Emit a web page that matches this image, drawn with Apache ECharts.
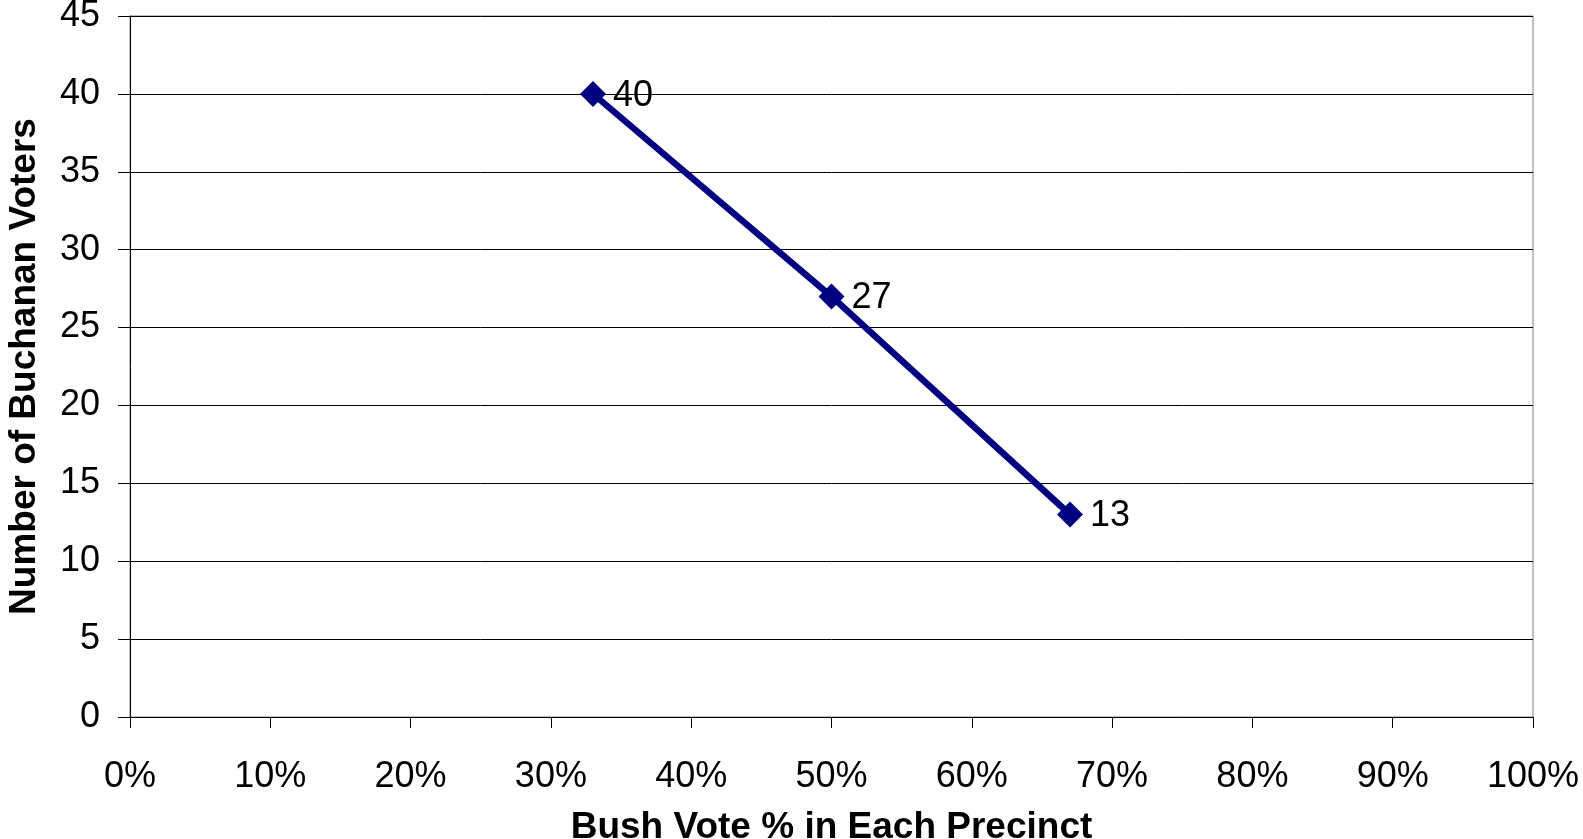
<!DOCTYPE html>
<html>
<head>
<meta charset="utf-8">
<script src="https://cdn.jsdelivr.net/npm/echarts@6/dist/echarts.min.js"></script>
<style>html,body{margin:0;padding:0;background:#fff}#c{width:1583px;height:839px}</style>
</head>
<body>
<div id="c"></div>
<script>
const bushPct = [33, 50, 67];
const buchananVoters = [40, 27, 13];
const xTitle = 'Bush Vote % in Each Precinct';
const yTitle = 'Number of Buchanan Voters';

const chart = echarts.init(document.getElementById('c'), null, {renderer: 'canvas'});
const font = 'Liberation Sans, Arial, sans-serif';
chart.setOption({
  animation: false,
  backgroundColor: '#ffffff',
  grid: {left: 130, right: 50, top: 16, bottom: 122, show: true, borderColor: '#808080', borderWidth: 1,
    containLabel: false, outerBoundsMode: 'none'},
  xAxis: {
    type: 'value', min: 0, max: 100, interval: 10,
    name: xTitle, nameLocation: 'middle', nameGap: 92,
    nameTextStyle: {fontFamily: font, fontSize: 37, fontWeight: 'bold', color: '#000'},
    axisLine: {show: true, lineStyle: {color: '#000', width: 1}},
    axisTick: {show: true, length: 11, lineStyle: {color: '#000'}},
    axisLabel: {margin: 42, fontFamily: font, fontSize: 36, color: '#000', formatter: '{value}%'},
    splitLine: {show: false}
  },
  yAxis: {
    type: 'value', min: 0, max: 45, interval: 5,
    name: yTitle, nameLocation: 'middle', nameGap: 87,
    nameTextStyle: {fontFamily: font, fontSize: 37, fontWeight: 'bold', color: '#000'},
    axisLine: {show: true, lineStyle: {color: '#000', width: 1}},
    axisTick: {show: true, length: 12, lineStyle: {color: '#000'}},
    axisLabel: {margin: 30, fontFamily: font, fontSize: 36, color: '#000'},
    splitLine: {show: true, lineStyle: {color: '#000', width: 1}}
  },
  series: [{
    type: 'line',
    data: bushPct.map((x, i) => [x, buchananVoters[i]]),
    symbol: 'diamond', symbolSize: 26,
    lineStyle: {color: '#000080', width: 6.5},
    itemStyle: {color: '#000080'},
    label: {show: true, position: 'right', distance: 7, offset: [0, 2], fontFamily: font, fontSize: 36, color: '#000',
      formatter: p => p.value[1]}
  }]
});
</script>
</body>
</html>
